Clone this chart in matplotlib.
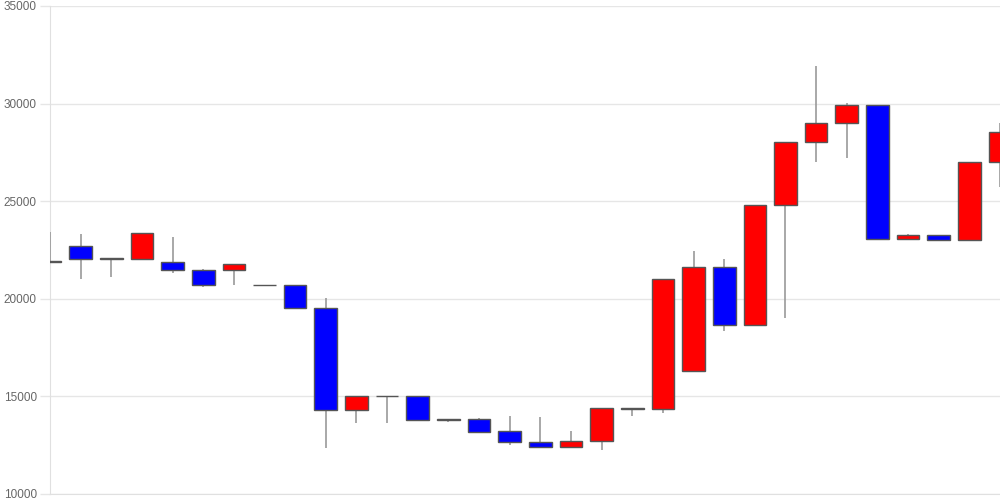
import matplotlib
matplotlib.use("Agg")
import matplotlib.pyplot as plt
import numpy as np

plt.rcParams['font.family'] = ['Liberation Sans', 'DejaVu Sans']

opens  = [21900, 22720, 22020, 22050, 21870, 21460, 21460, 20700, 20700, 19510,
          14300, 15030, 15020, 13800, 13830, 13230, 12660, 12390, 12700, 14410,
          14340, 16300, 21610, 18640, 24800, 28020, 29010, 29930, 23050, 23270,
          23000, 27010]
closes = [21950, 22020, 22080, 23350, 21460, 20690, 21770, 20700, 19510, 14300,
          15020, 15030, 13810, 13830, 13190, 12650, 12390, 12710, 14410, 14380,
          21010, 21610, 18640, 24800, 28020, 29010, 29930, 23050, 23270, 23000,
          27010, 28530]
highs  = [23420, 23300, 22080, 23350, 23170, 21540, 21770, 20700, 20700, 20020,
          15020, 15030, 15020, 13830, 13880, 14010, 13960, 13230, 14410, 14410,
          21010, 22450, 22020, 24800, 28020, 31930, 30020, 29930, 23320, 23270,
          27010, 29020]
lows   = [21900, 21000, 21100, 22050, 21340, 20590, 20710, 20700, 19510, 12370,
          13620, 13650, 13810, 13700, 13190, 12500, 12390, 12390, 12250, 14010,
          14130, 16300, 18340, 18640, 19020, 27010, 27200, 23050, 23050, 23000,
          23000, 25710]
y_ticks = [10000, 15000, 20000, 25000, 30000, 35000]

fig = plt.figure(figsize=(10, 5), dpi=100)
ax = fig.add_axes([0.05, 0.012, 0.95, 0.976])

n = len(opens)
x = np.arange(n)
o = np.array(opens); c = np.array(closes)
up = c > o
colors = ['#ff0000' if u else '#0000ff' for u in up]
for i in range(n):
    if o[i] == c[i]:
        colors[i] = '#888888'

ax.vlines(x, lows, highs, color='#999999', linewidth=1.2, zorder=2)
bottoms = np.minimum(o, c)
heights = np.abs(c - o)
ax.bar(x, heights, bottom=bottoms, width=0.74, color=colors,
       edgecolor='#555555', linewidth=1.0, zorder=3)

ax.set_xlim(0, n - 1)
ax.set_ylim(10000, 35000)
ax.set_yticks(y_ticks)
ax.set_yticklabels([str(t) for t in y_ticks], color='#666666', fontsize=8.5)
ax.tick_params(axis='y', length=7.5, width=1, color='#e6e6e6', pad=2)
ax.set_xticks([])
ax.grid(axis='y', color='#e6e6e6', linewidth=1, zorder=0)
ax.set_axisbelow(True)
for s in ['top', 'right']:
    ax.spines[s].set_visible(False)
ax.spines['left'].set_color('#e0e0e0')
ax.spines['bottom'].set_color('#e0e0e0')
ax.spines['left'].set_zorder(1)
ax.spines['bottom'].set_zorder(1)
for lbl in ax.get_yticklabels():
    lbl.set_clip_on(False)

fig.savefig('out.png', dpi=100)
